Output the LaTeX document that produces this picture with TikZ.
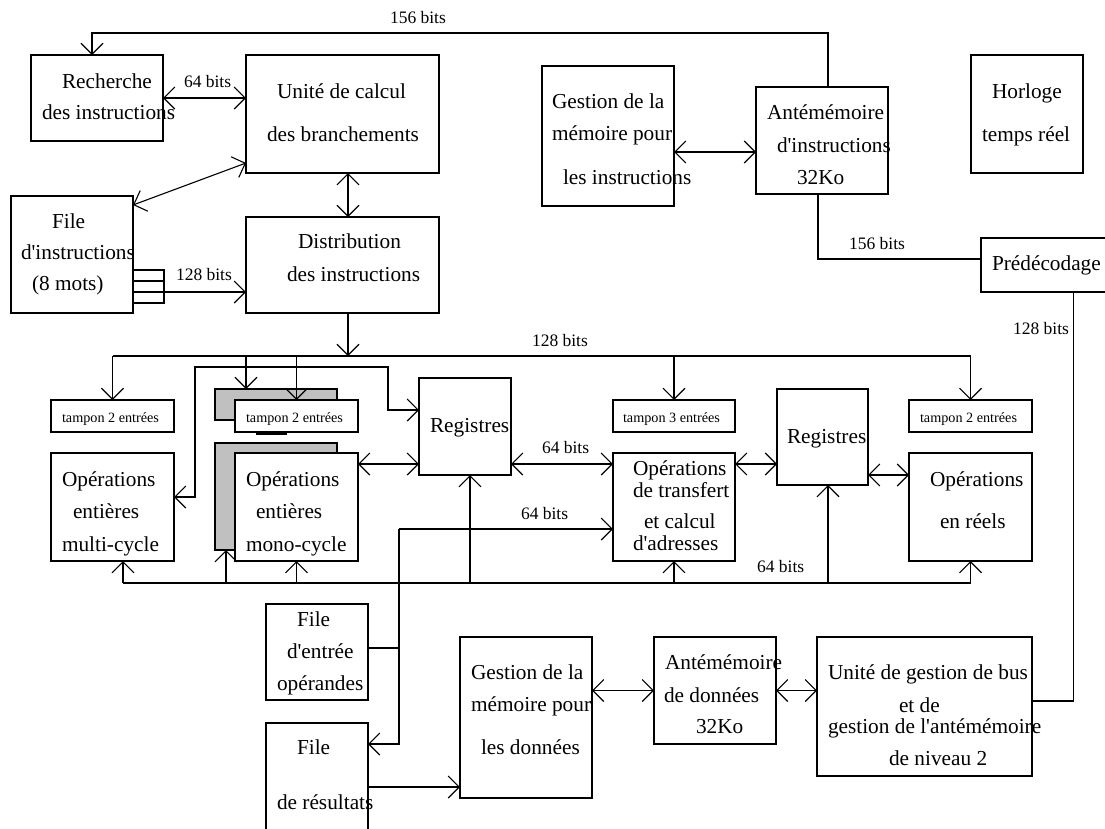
\documentclass[tikz,border=0pt]{standalone}
\usepackage{fontspec}
\setmainfont{Liberation Serif}
\usetikzlibrary{arrows.meta,calc}
\definecolor{shadegray}{HTML}{C0C0C0}

% block drawn from its top-left corner (x1,y1) to its bottom-right corner (x2,y2)
\newcommand\mkbox[6][]{\node[box,#1,minimum width={(#5-#3)*1pt},minimum height={(#6-#4)*1pt},anchor=north west] (#2) at (#3,#4) {};}
% one line of text, placed by the left end of its baseline
\newcommand\putline[4]{\node[lbl,font=#1] (#2) at (#3) {#4};}
\newcommand\fmain{\fontsize{21.3}{24}\selectfont}
\newcommand\flab{\fontsize{17.5}{20}\selectfont}
\newcommand\fsmall{\fontsize{14.2}{16}\selectfont}
\newcommand\q{\textquotesingle}

\begin{document}
\begin{tikzpicture}[x=1pt,y=-1pt,
  box/.style={draw,line width=1.2pt,inner sep=0pt,outer sep=0pt,fill=white},
  lbl/.style={anchor=base west,inner sep=0pt,outer sep=0pt},
  wire/.style={line width=1.1pt},
  arr/.style={wire,-{Straight Barb[length=11pt,width=22pt]}},
  darr/.style={wire,{Straight Barb[length=11pt,width=22pt]}-{Straight Barb[length=11pt,width=22pt]}}]
\useasboundingbox (0,0) rectangle (1105,828);

% ---------- blocks ----------
\mkbox{reco}{31}{55}{163}{141}
\mkbox{unite}{246}{55}{439}{173}
\mkbox{fileI}{11}{196}{133}{313}
\mkbox{distr}{246}{217}{439}{313}
\mkbox{stk}{133}{270}{164}{303}
\mkbox{gestI}{542}{66}{674}{206}
\mkbox{antI}{756}{87}{888}{194}
\mkbox{horl}{971}{55}{1083}{173}
\mkbox{prede}{981}{238}{1105.5}{292}

\mkbox{tamp1}{51}{400}{174}{432}
\mkbox[fill=shadegray]{tamp2s}{215}{389}{337}{420}
\mkbox{tamp2}{235}{400}{358}{432}
\mkbox{tamp3}{613}{400}{735}{432}
\mkbox{tamp4}{909}{400}{1032}{432}

\mkbox{reg1}{419}{378}{511}{475}
\mkbox{reg2}{777}{389}{868}{485}

\mkbox{multi}{51}{453}{174}{561}
\mkbox[fill=shadegray]{monos}{215}{443}{337}{550}
\mkbox{mono}{235}{453}{358}{561}
\mkbox{transf}{613}{453}{735}{561}
\mkbox{reels}{909}{453}{1032}{561}

\mkbox{fileE}{266}{604}{368}{700}
\mkbox{fileR}{266}{723}{368}{840}
\mkbox{gestD}{460}{637}{592}{798}
\mkbox{antD}{654}{637}{776}{744}
\mkbox{bus}{817}{637}{1032}{776}

% ---------- texts ----------
\putline{\fmain}{t1}{62,88}{Recherche}
\putline{\fmain}{t2}{42,119}{des instructions}
\putline{\fmain}{t3}{277,98}{Unité de calcul}
\putline{\fmain}{t4}{267,141}{des branchements}
\putline{\fmain}{t5}{52,228}{File}
\putline{\fmain}{t6}{21,259}{d\q instructions}
\putline{\fmain}{t7}{32,290}{(8 mots)}
\putline{\fmain}{t8}{298,248}{Distribution}
\putline{\fmain}{t9}{287,281}{des instructions}
\putline{\fmain}{t10}{552,108}{Gestion de la}
\putline{\fmain}{t11}{552,140}{mémoire pour}
\putline{\fmain}{t12}{563,184}{les instructions}
\putline{\fmain}{t13}{767,119}{Antémémoire}
\putline{\fmain}{t14}{777,152}{d\q instructions}
\putline{\fmain}{t15}{797,184}{32Ko}
\putline{\fmain}{t16}{992,98}{Horloge}
\putline{\fmain}{t17}{982,141}{temps réel}
\putline{\fmain}{t18}{992,270}{Prédécodage}

\putline{\fsmall}{t19}{62,422}{tampon 2 entrées}
\putline{\fsmall}{t20}{246,422}{tampon 2 entrées}
\putline{\fsmall}{t21}{623,422}{tampon 3 entrées}
\putline{\fsmall}{t22}{920,422}{tampon 2 entrées}

\putline{\fmain}{t23}{430,432}{Registres}
\putline{\fmain}{t24}{787,443}{Registres}

\putline{\fmain}{t25}{62,486}{Opérations}
\putline{\fmain}{t26}{73,518}{entières}
\putline{\fmain}{t27}{62,551}{multi-cycle}
\putline{\fmain}{t28}{246,486}{Opérations}
\putline{\fmain}{t29}{256,518}{entières}
\putline{\fmain}{t30}{246,551}{mono-cycle}
\putline{\fmain}{t31}{633,475}{Opérations}
\putline{\fmain}{t32}{633,497}{de transfert}
\putline{\fmain}{t33}{644,528}{et calcul}
\putline{\fmain}{t34}{633,550}{d\q adresses}
\putline{\fmain}{t35}{930,486}{Opérations}
\putline{\fmain}{t36}{940,528}{en réels}

\putline{\fmain}{t37}{297,626}{File}
\putline{\fmain}{t38}{287,658}{d\q entrée}
\putline{\fmain}{t39}{277,690}{opérandes}
\putline{\fmain}{t40}{297,754}{File}
\putline{\fmain}{t41}{277,809}{de résultats}
\putline{\fmain}{t42}{471,679}{Gestion de la}
\putline{\fmain}{t43}{471,711}{mémoire pour}
\putline{\fmain}{t44}{481,754}{les données}
\putline{\fmain}{t45}{665,669}{Antémémoire}
\putline{\fmain}{t46}{664,702}{de données}
\putline{\fmain}{t47}{696,733}{32Ko}
\putline{\fmain}{t48}{828,679}{Unité de gestion de bus}
\putline{\fmain}{t49}{899,712}{et de}
\putline{\fmain}{t50}{828,733}{gestion de l\q antémémoire}
\putline{\fmain}{t51}{889,765}{de niveau 2}

\putline{\flab}{w1}{390,23}{156 bits}
\putline{\flab}{w2}{184,87}{64 bits}
\putline{\flab}{w3}{176,280}{128 bits}
\putline{\flab}{w4}{849,249}{156 bits}
\putline{\flab}{w5}{1013,334}{128 bits}
\putline{\flab}{w6}{532,346}{128 bits}
\putline{\flab}{w7}{542,453}{64 bits}
\putline{\flab}{w8}{521,519}{64 bits}
\putline{\flab}{w9}{757,572}{64 bits}

% ---------- instruction side ----------
\draw[arr] ($(antI.north west)+(72,0)$) -- ++(0,-54) -| ($(reco.north west)+(61,0)$);
\draw[darr] (reco.east) -- (reco.east -| unite.west);
\draw[darr] ($(fileI.north east)+(0,9)$) -- ($(unite.south west)+(0,-10)$);
\draw[darr] ($(unite.south)+(5.5,0)$) -- ($(distr.north)+(5.5,0)$);
\draw[line width=1.2pt] ($(stk.north west)+(0,11)$) -- ++(31,0);
\coordinate (s292) at ($(stk.south west)+(0,-11)$);
\draw[line width=1.2pt] (s292) -- (s292 -| stk.east);
\draw[arr] (s292 -| stk.east) -- (s292 -| distr.west);
\coordinate (g152) at ($(gestI.north east)+(0,86)$);
\draw[darr] (g152) -- (g152 -| antI.west);
\draw[wire] ($(antI.south)+(-4,0)$) |- ($(prede.west)+(0,-6)$);

% ---------- 128-bit dispatch bus ----------
\coordinate (busy) at ($(distr.south)+(5.5,43)$);
\draw[arr] ($(distr.south)+(5.5,0)$) -- (busy);
\draw[wire] (tamp1.north |- busy) -- (tamp4.north |- busy);
\draw[arr] (tamp1.north |- busy) -- (tamp1.north);
\coordinate (sh2) at ($(tamp2s.north west)+(31,0)$);
\draw[arr] (sh2 |- busy) -- (sh2);
\draw[arr] (tamp2.north |- busy) -- (tamp2.north);
\draw[arr] (tamp3.north |- busy) -- (tamp3.north);
\draw[arr] (tamp4.north |- busy) -- (tamp4.north);
\draw[line width=2pt] ($(tamp2.south west)+(21,1.5)$) -- ++(31,0);

% branch feeding the multi-cycle unit and the integer registers
\draw[darr] ($(multi.east)+(0,-10)$) -- ++(21,0) -- ++(0,-130) -- ++(193,0) -- ++(0,43) -- ($(reg1.west)+(0,-16.5)$);

% ---------- register exchanges ----------
\coordinate (m464) at ($(mono.north east)+(0,11)$);
\draw[darr] (m464) -- (m464 -| reg1.west);
\draw[darr] (m464 -| reg1.east) -- (m464 -| transf.west);
\draw[darr] (m464 -| transf.east) -- (m464 -| reg2.west);
\coordinate (r475) at ($(reels.north west)+(0,22)$);
\draw[darr] (r475 -| reg2.east) -- (r475);

% ---------- 64-bit result bus ----------
\coordinate (bb) at ($(multi.south)+(10.5,22)$);
\draw[wire] (bb) -- (bb -| reels.south);
\draw[arr] (bb) -- ++(0,-22);
\coordinate (ms) at ($(monos.south west)+(11,0)$);
\draw[arr] (ms |- bb) -- (ms);
\draw[arr] (mono.south |- bb) -- (mono.south);
\coordinate (rg1) at ($(reg1.south)+(5,0)$);
\draw[arr] (rg1 |- bb) -- (rg1);
\draw[arr] (transf.south |- bb) -- (transf.south);
\coordinate (rg2) at ($(reg2.south)+(5.5,0)$);
\draw[arr] (rg2 |- bb) -- (rg2);
\draw[arr] (reels.south |- bb) -- (reels.south);

% ---------- operand and result queues ----------
\coordinate (t529) at ($(transf.south west)+(0,-32)$);
\coordinate (vx) at ($(fileE.north east)+(31,44)$);
\draw[arr] (vx |- t529) -- (t529);
\draw[arr] (vx |- t529) |- ($(fileR.north east)+(0,21)$);
\draw[wire] (fileE.east |- vx) -- (vx);
\coordinate (r787) at ($(fileR.north east)+(0,64)$);
\draw[arr] (r787) -- (r787 -| gestD.west);

% ---------- data memory side ----------
\draw[darr] (antD.west -| gestD.east) -- (antD.west);
\draw[darr] (antD.east) -- (antD.east -| bus.west);
\coordinate (pd) at ($(prede.south)+(30,0)$);
\draw[wire] (pd) |- ($(bus.east)+(0,-5.5)$);
\end{tikzpicture}
\end{document}
